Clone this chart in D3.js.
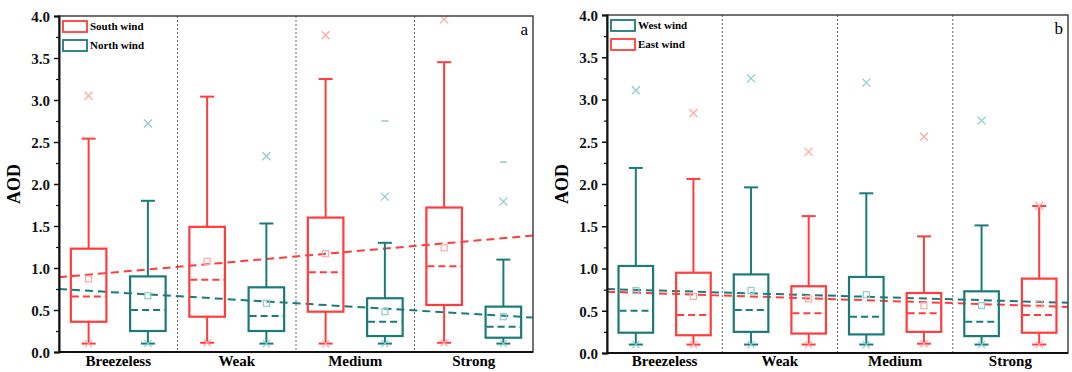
<!DOCTYPE html>
<html lang="en">
<head>
    <meta charset="UTF-8">
    <title>AOD by wind class</title>
    <script src="https://d3js.org/d3.v7.min.js"></script>
    <style>
        body {
            margin: 0;
            background-color: #ffffff;
            font-family: "Liberation Serif", "Times New Roman", serif;
        }
        .tick text {
            font-weight: 700;
            font-size: 15px;
            font-family: "Liberation Serif", serif;
        }
        .cat {
            font-weight: 700;
            font-size: 15px;
        }
        .legend text {
            font-weight: 700;
            font-size: 11px;
        }
    </style>
</head>
<body>
<svg width="1072" height="372"></svg>
<script>
    const categories = ["Breezeless", "Weak", "Medium", "Strong"];
    const yTicks = [0, 0.5, 1, 1.5, 2, 2.5, 3, 3.5, 4];

    // each row: [whisker low, q1, median, q3, whisker high, mean]
    const southWind = [
      [0.10, 0.36, 0.66, 1.23, 2.54, 0.87],
      [0.11, 0.42, 0.86, 1.49, 3.04, 1.08],
      [0.10, 0.48, 0.95, 1.60, 3.25, 1.17],
      [0.11, 0.56, 1.02, 1.72, 3.45, 1.24]
    ];
    const northWind = [
      [0.10, 0.25, 0.50, 0.90, 1.80, 0.67],
      [0.10, 0.25, 0.43, 0.77, 1.53, 0.58],
      [0.10, 0.19, 0.36, 0.64, 1.30, 0.48],
      [0.10, 0.17, 0.30, 0.54, 1.10, 0.42]
    ];
    const westWind = [
      [0.10, 0.24, 0.50, 1.03, 2.19, 0.74],
      [0.10, 0.25, 0.51, 0.93, 1.96, 0.74],
      [0.10, 0.22, 0.43, 0.90, 1.89, 0.69],
      [0.10, 0.20, 0.37, 0.73, 1.51, 0.56]
    ];
    const eastWind = [
      [0.10, 0.21, 0.45, 0.95, 2.06, 0.67],
      [0.10, 0.23, 0.47, 0.79, 1.62, 0.64],
      [0.11, 0.25, 0.47, 0.71, 1.38, 0.56],
      [0.10, 0.24, 0.45, 0.88, 1.74, 0.58]
    ];

    // x markers (upper) and "-" markers (max)
    const southCross = [3.05, null, 3.77, 3.96];
    const northCross = [2.72, 2.33, 1.85, 1.79];
    const northDash  = [null, null, 2.75, 2.26];
    const westCross  = [3.11, 3.25, 3.20, 2.75];
    const eastCross  = [2.84, 2.38, 2.56, 1.74];

    // linear fits over category index (1..4): [slope, intercept]
    const southTrend = [0.124, 0.828];
    const northTrend = [-0.085, 0.7925];
    const westTrend  = [-0.0405, 0.777];
    const eastTrend  = [-0.045, 0.748];

    const RED = "#ff3d3d", TEAL = "#1b7b7b";
    const RED_L = "#ffa8a8", TEAL_L = "#8fcccc";

    const svg = d3.select("svg");

    drawPanel({
      left: 59, right: 533, top: 16, bottom: 352, tag: "a",
      series: [
        {name: "South wind", stats: southWind, cross: southCross, dash: [null, null, null, null], trend: southTrend, color: RED, light: RED_L},
        {name: "North wind", stats: northWind, cross: northCross, dash: northDash, trend: northTrend, color: TEAL, light: TEAL_L}
      ]
    });
    drawPanel({
      left: 607, right: 1068, top: 15, bottom: 353, tag: "b",
      series: [
        {name: "West wind", stats: westWind, cross: westCross, dash: [null, null, null, null], trend: westTrend, color: TEAL, light: TEAL_L},
        {name: "East wind", stats: eastWind, cross: eastCross, dash: [null, null, null, null], trend: eastTrend, color: RED, light: RED_L}
      ]
    });

function drawPanel(p) {
    const x = d3.scaleBand().domain(categories).range([p.left, p.right]).padding(0);
    const y = d3.scaleLinear().domain([0, 4]).range([p.bottom, p.top]);
    const bw = x.bandwidth();
    const boxW = bw * 0.3;
    const capW = 14;

    const g = svg.append("g");

    // dotted separators
    g.selectAll(".sep")
      .data(categories.slice(1))
      .enter().append("line")
        .attr("x1", d => x(d)).attr("x2", d => x(d))
        .attr("y1", p.top).attr("y2", p.bottom)
        .attr("stroke", "#666").attr("stroke-width", 1)
        .attr("stroke-dasharray", "2,2");

    // trend lines
    p.series.forEach(s => {
      g.append("line")
        .attr("x1", p.left).attr("x2", p.right)
        .attr("y1", y(s.trend[0] * 0.5 + s.trend[1]))
        .attr("y2", y(s.trend[0] * 4.5 + s.trend[1]))
        .attr("stroke", s.color).attr("stroke-width", 2)
        .attr("stroke-dasharray", "8,5");
    });

    // boxes
    p.series.forEach((s, si) => {
      const off = (si === 0 ? -0.25 : 0.25) * bw;
      const cx = d => x(categories[d]) + bw / 2 + off;
      const grp = g.selectAll(null)
        .data(s.stats.map((v, i) => ({v: v, i: i})))
        .enter().append("g");

      // whiskers
      grp.append("line")
        .attr("x1", d => cx(d.i)).attr("x2", d => cx(d.i))
        .attr("y1", d => y(d.v[0])).attr("y2", d => y(d.v[1]))
        .attr("stroke", s.color).attr("stroke-width", 2);
      grp.append("line")
        .attr("x1", d => cx(d.i)).attr("x2", d => cx(d.i))
        .attr("y1", d => y(d.v[3])).attr("y2", d => y(d.v[4]))
        .attr("stroke", s.color).attr("stroke-width", 2);
      [0, 4].forEach(k => {
        grp.append("line")
          .attr("x1", d => cx(d.i) - capW / 2).attr("x2", d => cx(d.i) + capW / 2)
          .attr("y1", d => y(d.v[k])).attr("y2", d => y(d.v[k]))
          .attr("stroke", s.color).attr("stroke-width", 2);
      });

      // box
      grp.append("rect")
        .attr("x", d => cx(d.i) - boxW / 2)
        .attr("y", d => y(d.v[3]))
        .attr("width", boxW)
        .attr("height", d => y(d.v[1]) - y(d.v[3]))
        .attr("fill", "none")
        .attr("stroke", s.color).attr("stroke-width", 2.2);

      // median (dashed)
      grp.append("line")
        .attr("x1", d => cx(d.i) - boxW / 2 + 1).attr("x2", d => cx(d.i) + boxW / 2 - 1)
        .attr("y1", d => y(d.v[2])).attr("y2", d => y(d.v[2]))
        .attr("stroke", s.color).attr("stroke-width", 2)
        .attr("stroke-dasharray", "7,4");

      // mean square
      grp.append("rect")
        .attr("x", d => cx(d.i) - 3).attr("y", d => y(d.v[5]) - 3)
        .attr("width", 6).attr("height", 6)
        .attr("fill", "none")
        .attr("stroke", s.light).attr("stroke-width", 1.2);

      // low cross at whisker end
      grp.append("path")
        .attr("d", d => crossPath(cx(d.i), y(d.v[0]), 3.5))
        .attr("stroke", s.light).attr("stroke-width", 1.2).attr("fill", "none");

      // upper crosses
      grp.filter(d => s.cross[d.i] != null).append("path")
        .attr("d", d => crossPath(cx(d.i), y(s.cross[d.i]), 4))
        .attr("stroke", s.light).attr("stroke-width", 1.3).attr("fill", "none");

      // max dashes
      grp.filter(d => s.dash[d.i] != null).append("line")
        .attr("x1", d => cx(d.i) - 3.5).attr("x2", d => cx(d.i) + 3.5)
        .attr("y1", d => y(s.dash[d.i])).attr("y2", d => y(s.dash[d.i]))
        .attr("stroke", s.light).attr("stroke-width", 1.5);
    });

    // frame
    g.append("rect")
      .attr("x", p.left).attr("y", p.top)
      .attr("width", p.right - p.left).attr("height", p.bottom - p.top)
      .attr("fill", "none").attr("stroke", "#444").attr("stroke-width", 1.5);
    g.append("line")
      .attr("x1", p.left).attr("x2", p.right).attr("y1", p.bottom).attr("y2", p.bottom)
      .attr("stroke", "#111").attr("stroke-width", 2);

    // y axis
    const yAxis = d3.axisLeft(y).tickValues(yTicks).tickFormat(d3.format(".1f"))
      .tickSize(5).tickPadding(4);
    const ax = g.append("g").attr("transform", `translate(${p.left},0)`).call(yAxis);
    ax.select(".domain").attr("stroke", "#111").attr("stroke-width", 2);
    ax.selectAll(".tick line").attr("stroke", "#111").attr("stroke-width", 1.5);
    ax.selectAll(".tick text").attr("fill", "#111").attr("dy", "0.35em");

    const minor = d3.axisLeft(y).tickValues(yTicks.slice(0, -1).map(t => t + 0.25))
      .tickSize(3).tickFormat("");
    const mx = g.append("g").attr("transform", `translate(${p.left},0)`).call(minor);
    mx.select(".domain").remove();
    mx.selectAll(".tick line").attr("stroke", "#111").attr("stroke-width", 1.2);

    // y title
    g.append("text")
      .attr("transform", `translate(${p.left - 39},${(p.top + p.bottom) / 2}) rotate(-90)`)
      .attr("text-anchor", "middle")
      .style("font-weight", 700).style("font-size", "18px")
      .text("AOD");

    // category labels
    g.selectAll(".cat")
      .data(categories)
      .enter().append("text")
        .attr("class", "cat")
        .attr("x", d => x(d) + bw / 2)
        .attr("y", 366)
        .attr("text-anchor", "middle")
        .text(d => d);

    // panel tag
    g.append("text")
      .attr("x", p.right - 5).attr("y", p.top + 19)
      .attr("text-anchor", "end")
      .style("font-size", "17px")
      .text(p.tag);

    // legend
    const lg = g.append("g").attr("class", "legend");
    p.series.forEach((s, i) => {
      lg.append("rect")
        .attr("x", p.left + 4).attr("y", p.top + 5 + i * 19)
        .attr("width", 24).attr("height", 11)
        .attr("fill", "none").attr("stroke", s.color).attr("stroke-width", 1.8);
      lg.append("text")
        .attr("x", p.left + 31).attr("y", p.top + 14 + i * 19)
        .text(s.name);
    });
}

function crossPath(cx, cy, r) {
    return `M${cx - r},${cy - r}L${cx + r},${cy + r}M${cx - r},${cy + r}L${cx + r},${cy - r}`;
}
</script>
</body>
</html>
